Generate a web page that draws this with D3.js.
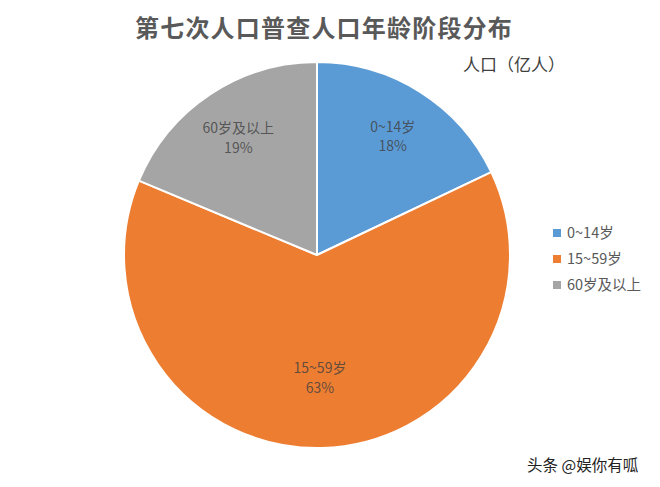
<!DOCTYPE html>
<html>
<head>
<meta charset="utf-8">
<script src="https://cdn.jsdelivr.net/npm/d3@7"></script>
<style>
  html, body { margin: 0; padding: 0; background: #fff; }
  svg { display: block; font-family: "Noto Sans CJK SC", "Noto Sans", sans-serif; }
</style>
</head>
<body>
<svg id="chart" width="660" height="487"></svg>
<script>
// Data: 第七次人口普查 年龄段人口（亿人）
const categories = ["0~14岁", "15~59岁", "60岁及以上"];
const values = [2.53, 8.94, 2.64];
const percentLabels = ["18%", "63%", "19%"];
const colors = ["#5B9BD5", "#ED7D31", "#A5A5A5"];

const title = "第七次人口普查人口年龄阶段分布";
const unitLabel = "人口（亿人）";
const watermark = "头条 @娱你有呱";

const svg = d3.select("#chart");
const W = 660, H = 487;
const cx = 317, cy = 255, R = 193;

svg.append("rect").attr("width", W).attr("height", H).attr("fill", "#fff");

// Title
svg.append("text")
  .attr("x", 324).attr("y", 37)
  .attr("text-anchor", "middle")
  .attr("font-size", 24).attr("font-weight", "bold")
  .attr("letter-spacing", 1.2)
  .attr("fill", "#595959")
  .text(title);

// Unit label
svg.append("text")
  .attr("x", 463).attr("y", 71)
  .attr("font-size", 17)
  .attr("fill", "#404040")
  .text(unitLabel);

const data = categories.map((c, i) => ({ cat: c, value: values[i], pct: percentLabels[i], color: colors[i] }));

const pie = d3.pie().value(d => d.value).sort(null);
const arcs = pie(data);
const arc = d3.arc().innerRadius(0).outerRadius(R);

const g = svg.append("g").attr("transform", `translate(${cx},${cy})`);

g.selectAll("path.slice")
  .data(arcs)
  .enter().append("path")
  .attr("class", "slice")
  .attr("d", arc)
  .attr("fill", d => d.data.color)
  .attr("stroke", "#fff")
  .attr("stroke-width", 2)
  .attr("stroke-linejoin", "round");

// Labels (best-fit style: largest slice label closer to centre)
const maxVal = d3.max(values);
const labelArc = d => {
  const lr = d.data.value === maxVal ? R * 0.63 : R * 0.735;
  return d3.arc().innerRadius(lr).outerRadius(lr).centroid(d);
};

const lbl = g.selectAll("text.lbl")
  .data(arcs)
  .enter().append("text")
  .attr("class", "lbl")
  .attr("text-anchor", "middle")
  .attr("font-size", 14)
  .attr("fill", "#404040")
  .attr("fill-opacity", 0.8)
  .attr("transform", d => {
    const [x, y] = labelArc(d);
    return `translate(${x},${y})`;
  });
lbl.append("tspan").attr("x", 0).attr("dy", "-0.25em").text(d => d.data.cat);
lbl.append("tspan").attr("x", 0).attr("dy", "1.4em").text(d => d.data.pct);

// Legend
const legend = svg.append("g").attr("transform", "translate(553,233)");
const li = legend.selectAll("g")
  .data(data)
  .enter().append("g")
  .attr("transform", (d, i) => `translate(0,${i * 26})`);
li.append("rect")
  .attr("x", 0).attr("y", -4)
  .attr("width", 8).attr("height", 8)
  .attr("fill", d => d.color);
li.append("text")
  .attr("x", 14).attr("y", 5)
  .attr("font-size", 14.5)
  .attr("fill", "#595959")
  .text(d => d.cat);

// Watermark
svg.append("text")
  .attr("x", 527).attr("y", 471)
  .attr("font-size", 15.5)
  .attr("fill", "#222")
  .text(watermark);
</script>
</body>
</html>
